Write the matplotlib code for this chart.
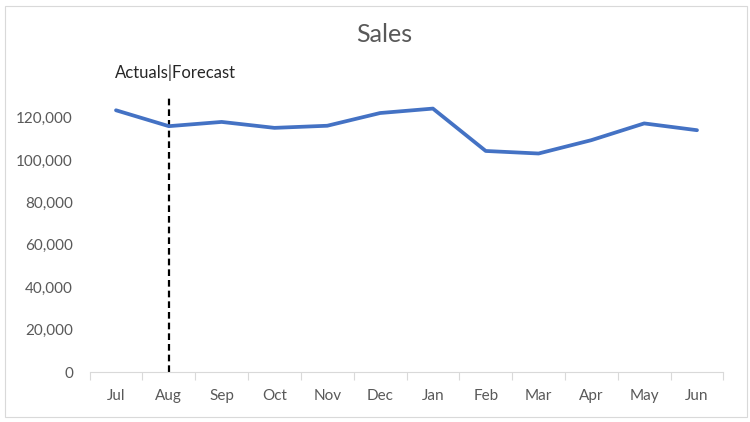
import matplotlib
matplotlib.use('Agg')
import matplotlib.pyplot as plt
from matplotlib.patches import Rectangle
from matplotlib.ticker import FuncFormatter
import numpy as np

# monthly sales
months = ['Jul', 'Aug', 'Sep', 'Oct', 'Nov', 'Dec', 'Jan', 'Feb', 'Mar', 'Apr', 'May', 'Jun']
sales = [123500, 116000, 118000, 115200, 116200, 122200, 124300, 104300, 103100, 109400, 117300, 114100]
split_month = 'Aug'
split_top = 130000
y_ticks = [0, 20000, 40000, 60000, 80000, 100000, 120000]

plt.rcParams['font.family'] = ['Lato', 'DejaVu Sans']

fig = plt.figure(figsize=(7.5, 4.22), dpi=100)
# chart border
fig.patches.append(Rectangle((4.5 / 750, 1 - 416.5 / 422), 742 / 750, 411 / 422,
                             transform=fig.transFigure, fill=False,
                             edgecolor='#D9D9D9', linewidth=0.8))

# plot area in pixels: x 89.6..723.4, y 96..372
ax = fig.add_axes([89.6 / 750, 1 - 372 / 422, (723.4 - 89.6) / 750, (372 - 96.5) / 422])

x = np.arange(len(months))
ax.plot(x, sales, color='#4472C4', linewidth=2.7, solid_joinstyle='round',
        solid_capstyle='round', zorder=3)

# actuals / forecast divider
xs = months.index(split_month)
ax.plot([xs, xs], [0, split_top], color='black', linestyle=(0, (3, 1.8)), linewidth=1.6, zorder=2)
ax.text(-0.02, 1.085, 'Actuals|Forecast', transform=ax.get_xaxis_transform(),
        ha='left', va='center', fontsize=12, color='#262626')

ax.set_xlim(-0.5, len(months) - 0.5)
ax.set_ylim(0, split_top)

ax.set_xticks(x)
ax.set_xticklabels(months)
ax.set_xticks(np.arange(len(months) + 1) - 0.5, minor=True)
ax.tick_params(axis='x', which='major', length=0, pad=12, labelsize=11, labelcolor='#595959')
ax.tick_params(axis='x', which='minor', length=6, width=0.8, color='#D9D9D9')

ax.set_yticks(y_ticks)
ax.yaxis.set_major_formatter(FuncFormatter(lambda v, p: f'{int(v):,}'))
ax.tick_params(axis='y', length=0, pad=12, labelsize=11, labelcolor='#595959')

for s in ['top', 'right', 'left']:
    ax.spines[s].set_visible(False)
ax.spines['bottom'].set_color('#D9D9D9')
ax.spines['bottom'].set_linewidth(0.8)

fig.text(384 / 750, 1 - 35 / 422, 'Sales', ha='center', va='center',
         fontsize=18, color='#595959')

fig.savefig('out.png', dpi=100)
